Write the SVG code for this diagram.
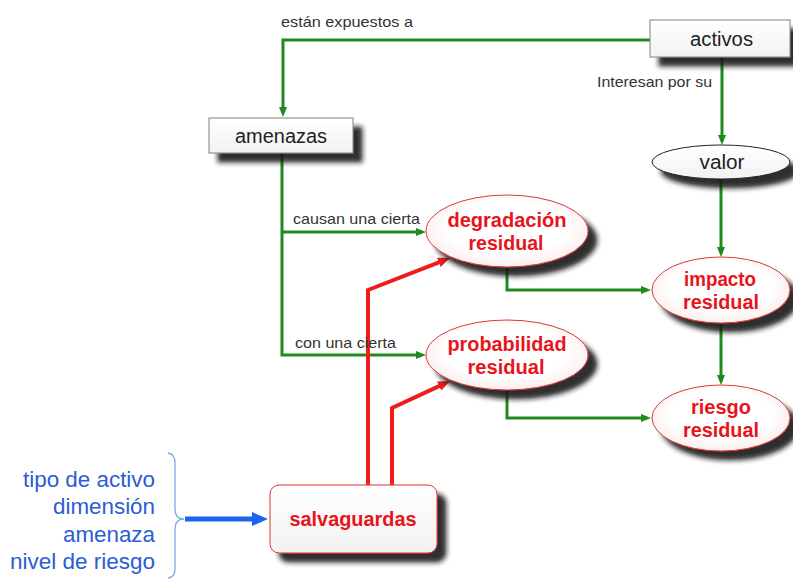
<svg xmlns="http://www.w3.org/2000/svg" width="793" height="581" viewBox="0 0 793 581">
<style>
  text { font-family: "Liberation Sans", Arial, sans-serif; }
  .lbl { font-size: 15px; fill: #333; }
  .nt { font-size: 20px; fill: #222; text-anchor: middle; }
  .rt { font-size: 20px; fill: #e8141c; font-weight: bold; text-anchor: middle; }
  .bt { font-size: 22px; fill: #2c5cd6; text-anchor: end; }
  .box { fill: url(#gw); stroke: #808080; stroke-width: 1; }
  .rel { fill: url(#gr); stroke: #d83a3a; stroke-width: 1; }
  .g { fill: none; stroke: #1f8a1f; stroke-width: 3; marker-end: url(#ag); }
  .r { fill: none; stroke: #ee1c1c; stroke-width: 4; marker-end: url(#ar); }
  .b { fill: none; stroke: #1c64f0; stroke-width: 5; marker-end: url(#ab); }
</style>
<defs>
  <filter id="sh" x="-20%" y="-30%" width="150%" height="180%">
    <feGaussianBlur in="SourceAlpha" stdDeviation="2.5"/>
    <feOffset dx="9" dy="9" result="b"/>
    <feFlood flood-color="#151515" flood-opacity="0.9"/>
    <feComposite in2="b" operator="in"/>
    <feMerge><feMergeNode/><feMergeNode in="SourceGraphic"/></feMerge>
  </filter>
  <linearGradient id="gw" x1="0" y1="0" x2="0" y2="1">
    <stop offset="0" stop-color="#ffffff"/>
    <stop offset="1" stop-color="#f2f2f2"/>
  </linearGradient>
  <radialGradient id="gr" cx="0.5" cy="0.45" r="0.6">
    <stop offset="0.6" stop-color="#ffffff"/>
    <stop offset="1" stop-color="#fbe9e9"/>
  </radialGradient>
  <marker id="ag" viewBox="0 0 10 8" markerWidth="10" markerHeight="8" refX="6" refY="4" orient="auto" markerUnits="userSpaceOnUse">
    <path d="M0,0 L10,4 L0,8 z" fill="#1f8a1f"/>
  </marker>
  <marker id="ar" viewBox="0 0 12 10" markerWidth="12" markerHeight="10" refX="7" refY="5" orient="auto" markerUnits="userSpaceOnUse">
    <path d="M0,0 L12,5 L0,10 z" fill="#ee1c1c"/>
  </marker>
  <marker id="ab" viewBox="0 0 16 14" markerWidth="16" markerHeight="14" refX="10" refY="7" orient="auto" markerUnits="userSpaceOnUse">
    <path d="M0,0 L16,7 L0,14 z" fill="#1c64f0"/>
  </marker>
</defs>

<g id="connectors">
  <path class="g" d="M650,40 H283 V113"/>
  <path class="g" d="M722,57 V141"/>
  <path class="g" d="M721,179 V253"/>
  <path class="g" d="M721,323 V381"/>
  <path class="g" d="M282,153 V355 H422"/>
  <path class="g" d="M282,232 H422"/>
  <path class="g" d="M507,267 V290 H647"/>
  <path class="g" d="M507,390 V418 H647"/>
  <path class="r" d="M368,485 V290 L445.3,259.8"/>
  <path class="r" d="M392,485 V408 L445.5,383.1"/>
  <path class="b" d="M185,519 H262"/>
  <path d="M168,453 Q175,454 175,463 V509 Q175,519 184,519 Q175,519 175,529 V569 Q175,577 168,578" fill="none" stroke="#7fa8e8" stroke-width="1.3"/>
  <text class="lbl" x="281" y="27" textLength="132" lengthAdjust="spacingAndGlyphs">están expuestos a</text>
  <text class="lbl" x="597" y="87" textLength="115" lengthAdjust="spacingAndGlyphs">Interesan por su</text>
  <text class="lbl" x="293" y="224" textLength="127" lengthAdjust="spacingAndGlyphs">causan una cierta</text>
  <text class="lbl" x="295" y="348" textLength="101" lengthAdjust="spacingAndGlyphs">con una cierta</text>
</g>

<g id="activos">
  <rect class="box" x="650" y="20" width="140" height="37" filter="url(#sh)"/>
  <text class="nt" x="721.5" y="46" textLength="63" lengthAdjust="spacingAndGlyphs">activos</text>
</g>
<g id="amenazas">
  <rect class="box" x="209" y="118" width="144" height="35" filter="url(#sh)"/>
  <text class="nt" x="281" y="143" textLength="92" lengthAdjust="spacingAndGlyphs">amenazas</text>
</g>
<g id="valor">
  <ellipse cx="721" cy="162" rx="69" ry="17" fill="url(#gw)" stroke="#222" stroke-width="1" filter="url(#sh)"/>
  <text class="nt" x="722" y="169" textLength="45" lengthAdjust="spacingAndGlyphs">valor</text>
</g>
<g id="degradacion">
  <ellipse class="rel" cx="507" cy="231" rx="81" ry="36" filter="url(#sh)"/>
  <text class="rt" x="507" y="227" textLength="119" lengthAdjust="spacingAndGlyphs">degradación</text>
  <text class="rt" x="506" y="250" textLength="75" lengthAdjust="spacingAndGlyphs">residual</text>
</g>
<g id="probabilidad">
  <ellipse class="rel" cx="507" cy="355" rx="81" ry="35" filter="url(#sh)"/>
  <text class="rt" x="507" y="351" textLength="119" lengthAdjust="spacingAndGlyphs">probabilidad</text>
  <text class="rt" x="506" y="374" textLength="77" lengthAdjust="spacingAndGlyphs">residual</text>
</g>
<g id="impacto">
  <ellipse class="rel" cx="721" cy="290" rx="69" ry="33" filter="url(#sh)"/>
  <text class="rt" x="720" y="286" textLength="72" lengthAdjust="spacingAndGlyphs">impacto</text>
  <text class="rt" x="721" y="309" textLength="76" lengthAdjust="spacingAndGlyphs">residual</text>
</g>
<g id="riesgo">
  <ellipse class="rel" cx="721" cy="418" rx="69" ry="33" filter="url(#sh)"/>
  <text class="rt" x="721" y="414" textLength="60" lengthAdjust="spacingAndGlyphs">riesgo</text>
  <text class="rt" x="721" y="437" textLength="76" lengthAdjust="spacingAndGlyphs">residual</text>
</g>
<g id="salvaguardas">
  <rect x="270" y="485" width="167" height="68" rx="9" fill="url(#gw)" stroke="#e03030" stroke-width="1" filter="url(#sh)"/>
  <text class="rt" x="353" y="526" textLength="127" lengthAdjust="spacingAndGlyphs">salvaguardas</text>
</g>
<g id="criterios">
  <text class="bt" x="155" y="487" textLength="132" lengthAdjust="spacingAndGlyphs">tipo de activo</text>
  <text class="bt" x="155" y="514" textLength="102" lengthAdjust="spacingAndGlyphs">dimensión</text>
  <text class="bt" x="155" y="542" textLength="92" lengthAdjust="spacingAndGlyphs">amenaza</text>
  <text class="bt" x="155" y="569" textLength="145" lengthAdjust="spacingAndGlyphs">nivel de riesgo</text>
</g>
</svg>
